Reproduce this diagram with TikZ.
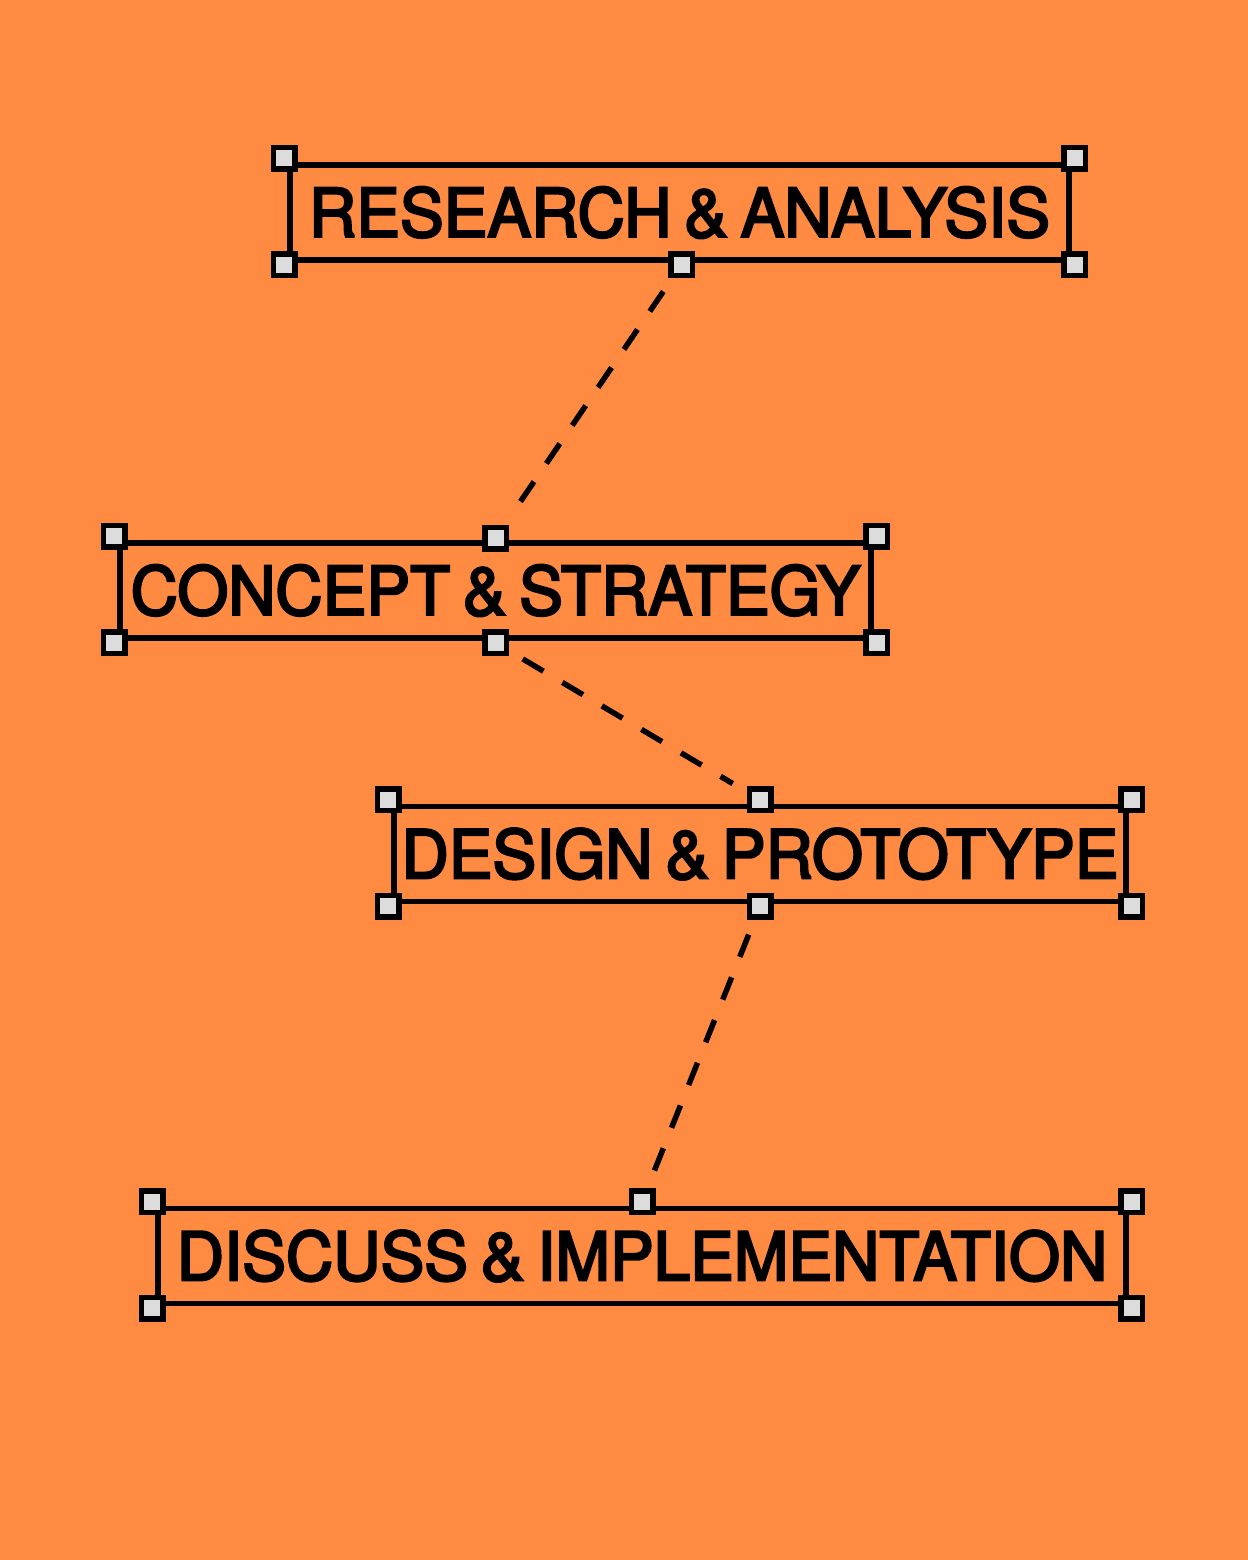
\documentclass[tikz,border=0pt]{standalone}
\usepackage{fontspec}
\setmainfont[WordSpace=0.7, FakeStretch=0.98]{TeX Gyre Heros}
\newfontfamily\stagefont[WordSpace=0.7, FakeStretch=0.978, FakeBold=3.5]{TeX Gyre Heros}
\usetikzlibrary{positioning}
\definecolor{bgorange}{HTML}{FF8A42}
\definecolor{handlegray}{HTML}{DCDCDC}

\begin{document}
\begin{tikzpicture}[
  x=0.5pt, y=-0.5pt,
  font=\stagefont\fontsize{33.5pt}{36pt}\selectfont,
  stage/.style={draw, line width=2.75pt, inner sep=0pt,
                minimum height=47.5pt, text=black},
  handle/.style={draw, line width=2.75pt, fill=handlegray,
                 inner sep=0pt, minimum size=10.75pt},
  link/.style={line width=2.75pt, dash pattern=on 12pt off 11pt,
               shorten >=8pt, shorten <=8pt}
]
\useasboundingbox[fill=bgorange] (0,0) rectangle (1248,1560);

\node[stage, minimum width=389.5pt] (research) at (679.5,212.5)
  {RESEARCH \& ANALYSIS};
\node[stage, minimum width=375.5pt] (concept) at (495.5,590.5)
  {CONCEPT \& STRATEGY};
\node[stage, minimum width=366pt] (design) at (760,854)
  {DESIGN \& PROTOTYPE};
\node[stage, minimum width=484pt] (discuss) at (642,1256)
  {DISCUSS \& IMPLEMENTATION};

% corner handles
\foreach \s in {research,concept,design,discuss} {
  \node[handle, xshift=-1.5pt, yshift=2pt] at (\s.north west) {};
  \node[handle, xshift=1.5pt, yshift=2pt] at (\s.north east) {};
  \node[handle, xshift=-1.5pt, yshift=-1pt] at (\s.south west) {};
  \node[handle, xshift=1.5pt, yshift=-1pt] at (\s.south east) {};
}
% mid handles
\node[handle, xshift=1pt, yshift=-1pt] (researchB) at (research.south) {};
\node[handle, yshift=1pt] (conceptT) at (concept.north) {};
\node[handle, yshift=-1pt] (conceptB) at (concept.south) {};
\node[handle, yshift=2pt] (designT) at (design.north) {};
\node[handle, yshift=-1pt] (designB) at (design.south) {};
\node[handle, yshift=2pt] (discussT) at (discuss.north) {};

\draw[link] (researchB) -- (conceptT);
\draw[link] (conceptB) -- (designT);
\draw[link] (designB) -- (discussT);
\end{tikzpicture}
\end{document}
